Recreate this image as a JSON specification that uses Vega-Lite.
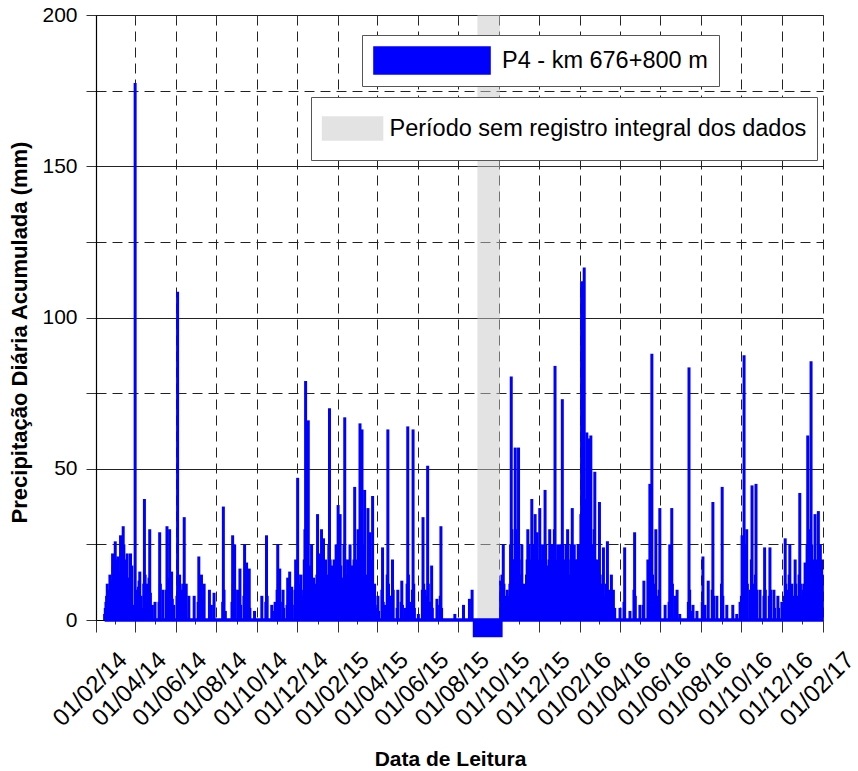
{
"$schema": "https://vega.github.io/schema/vega-lite/v6.json",
"width": 727, "height": 605,
"autosize": "none",
"padding": {"left": 96, "top": 15, "right": 35, "bottom": 151},
"background": "white",
"config": {"view": {"stroke": null}, "font": "Liberation Sans"},
"title": {"text": "Precipitação pluviométrica diária registrada no pluviômetro P4", "fontSize": 22, "fontWeight": "normal", "color": "black", "anchor": "start", "dx": -12, "offset": 3, "baseline": "alphabetic"},
"datasets": {
"faixa": [{"ini": "2015-08-30", "fim": "2015-10-03", "y0": 0, "y1": 200}],
"negativo": [{"ini": "2015-08-23", "fim": "2015-10-07", "y0": 0, "y1": -5.7}],
"base": [{"ini": "2014-02-14", "fim": "2017-02-01", "v": 0}],
"chuva": [
{"d":"2014-02-14","v":2},{"d":"2014-02-16","v":6},{"d":"2014-02-18","v":12},{"d":"2014-02-20","v":4},{"d":"2014-02-22","v":15},{"d":"2014-02-24","v":9},{"d":"2014-02-26","v":22},{"d":"2014-02-28","v":12},
{"d":"2014-02-15","v":4},{"d":"2014-02-17","v":8},{"d":"2014-02-19","v":10},{"d":"2014-02-21","v":7},{"d":"2014-02-23","v":11},{"d":"2014-02-25","v":13},{"d":"2014-02-27","v":18},
{"d":"2014-03-02","v":26},{"d":"2014-03-04","v":18},{"d":"2014-03-06","v":21},{"d":"2014-03-08","v":10},{"d":"2014-03-10","v":28},{"d":"2014-03-12","v":15},{"d":"2014-03-14","v":31},{"d":"2014-03-16","v":20},{"d":"2014-03-18","v":12},{"d":"2014-03-20","v":22},{"d":"2014-03-22","v":8},{"d":"2014-03-25","v":22},{"d":"2014-03-28","v":5},
{"d":"2014-03-01","v":15},{"d":"2014-03-03","v":20},{"d":"2014-03-05","v":12},{"d":"2014-03-07","v":16},{"d":"2014-03-09","v":14},{"d":"2014-03-11","v":20},{"d":"2014-03-13","v":22},{"d":"2014-03-15","v":25},{"d":"2014-03-17","v":9},{"d":"2014-03-19","v":16},{"d":"2014-03-21","v":12},{"d":"2014-03-23","v":14},{"d":"2014-03-24","v":6},{"d":"2014-03-26","v":10},{"d":"2014-03-27","v":18},
{"d":"2014-04-01","v":177.5},{"d":"2014-04-03","v":5},{"d":"2014-04-06","v":11},{"d":"2014-04-08","v":16},{"d":"2014-04-10","v":8},{"d":"2014-04-15","v":40},{"d":"2014-04-19","v":12},{"d":"2014-04-23","v":30},{"d":"2014-04-27","v":5},
{"d":"2014-04-02","v":10},{"d":"2014-04-04","v":3},{"d":"2014-04-05","v":7},{"d":"2014-04-07","v":13},{"d":"2014-04-09","v":6},{"d":"2014-04-12","v":4},{"d":"2014-04-14","v":12},{"d":"2014-04-16","v":15},{"d":"2014-04-17","v":8},{"d":"2014-04-20","v":6},{"d":"2014-04-22","v":14},{"d":"2014-04-24","v":9},
{"d":"2014-05-01","v":6},{"d":"2014-05-08","v":29},{"d":"2014-05-13","v":10},{"d":"2014-05-19","v":31},{"d":"2014-05-23","v":30},{"d":"2014-05-26","v":16},{"d":"2014-05-29","v":5},
{"d":"2014-05-07","v":6},{"d":"2014-05-09","v":12},{"d":"2014-05-18","v":10},{"d":"2014-05-20","v":14},{"d":"2014-05-21","v":8},{"d":"2014-05-22","v":12},{"d":"2014-05-24","v":9},{"d":"2014-05-27","v":7},
{"d":"2014-06-04","v":108.5},{"d":"2014-06-07","v":15},{"d":"2014-06-10","v":10},{"d":"2014-06-14","v":34},{"d":"2014-06-17","v":12},{"d":"2014-06-21","v":8},{"d":"2014-06-29","v":8},
{"d":"2014-06-03","v":8},{"d":"2014-06-05","v":10},{"d":"2014-06-06","v":6},{"d":"2014-06-08","v":12},{"d":"2014-06-11","v":6},{"d":"2014-06-13","v":12},{"d":"2014-06-15","v":9},{"d":"2014-06-16","v":5},
{"d":"2014-07-06","v":21},{"d":"2014-07-10","v":15},{"d":"2014-07-14","v":12},{"d":"2014-07-22","v":10},{"d":"2014-07-25","v":5},{"d":"2014-07-29","v":9},
{"d":"2014-07-05","v":6},{"d":"2014-07-07","v":10},{"d":"2014-07-11","v":8},{"d":"2014-07-13","v":5},{"d":"2014-07-23","v":4},
{"d":"2014-08-12","v":37.5},{"d":"2014-08-15","v":3},{"d":"2014-08-26","v":28},{"d":"2014-08-29","v":25},
{"d":"2014-08-11","v":6},{"d":"2014-08-13","v":10},{"d":"2014-08-25","v":6},{"d":"2014-08-27","v":12},{"d":"2014-08-28","v":8},{"d":"2014-08-30","v":10},
{"d":"2014-09-03","v":10},{"d":"2014-09-06","v":17},{"d":"2014-09-13","v":25},{"d":"2014-09-16","v":19},{"d":"2014-09-20","v":17},{"d":"2014-09-28","v":3},
{"d":"2014-09-05","v":8},{"d":"2014-09-07","v":5},{"d":"2014-09-12","v":8},{"d":"2014-09-14","v":12},{"d":"2014-09-15","v":6},{"d":"2014-09-17","v":10},{"d":"2014-09-19","v":6},{"d":"2014-09-21","v":4},
{"d":"2014-10-09","v":8},{"d":"2014-10-16","v":28},{"d":"2014-10-24","v":5},{"d":"2014-10-29","v":6},{"d":"2014-10-15","v":6},{"d":"2014-10-17","v":8},{"d":"2014-10-25","v":3},
{"d":"2014-11-02","v":25},{"d":"2014-11-05","v":17},{"d":"2014-11-10","v":10},{"d":"2014-11-17","v":14},{"d":"2014-11-20","v":16},{"d":"2014-11-23","v":11},{"d":"2014-11-29","v":20},
{"d":"2014-11-01","v":10},{"d":"2014-11-03","v":12},{"d":"2014-11-04","v":8},{"d":"2014-11-06","v":6},{"d":"2014-11-11","v":4},{"d":"2014-11-16","v":5},{"d":"2014-11-18","v":8},{"d":"2014-11-19","v":6},{"d":"2014-11-21","v":9},{"d":"2014-11-22","v":6},{"d":"2014-11-24","v":5},{"d":"2014-11-28","v":10},{"d":"2014-11-30","v":12},
{"d":"2014-12-02","v":47},{"d":"2014-12-07","v":15},{"d":"2014-12-14","v":79},{"d":"2014-12-18","v":66},{"d":"2014-12-23","v":25},{"d":"2014-12-27","v":10},
{"d":"2014-12-01","v":8},{"d":"2014-12-03","v":15},{"d":"2014-12-04","v":10},{"d":"2014-12-05","v":6},{"d":"2014-12-06","v":12},{"d":"2014-12-08","v":8},{"d":"2014-12-09","v":5},{"d":"2014-12-11","v":10},{"d":"2014-12-12","v":20},{"d":"2014-12-13","v":30},{"d":"2014-12-15","v":25},{"d":"2014-12-16","v":12},{"d":"2014-12-17","v":20},{"d":"2014-12-19","v":15},{"d":"2014-12-20","v":10},{"d":"2014-12-21","v":18},{"d":"2014-12-22","v":12},{"d":"2014-12-24","v":8},{"d":"2014-12-26","v":14},{"d":"2014-12-28","v":6},{"d":"2014-12-29","v":12},{"d":"2014-12-30","v":8},{"d":"2014-12-31","v":15},
{"d":"2015-01-01","v":35},{"d":"2015-01-04","v":22},{"d":"2015-01-07","v":30},{"d":"2015-01-10","v":27},{"d":"2015-01-13","v":20},{"d":"2015-01-19","v":70},{"d":"2015-01-23","v":18},{"d":"2015-01-26","v":20},
{"d":"2015-01-02","v":15},{"d":"2015-01-03","v":10},{"d":"2015-01-05","v":12},{"d":"2015-01-06","v":18},{"d":"2015-01-08","v":14},{"d":"2015-01-09","v":20},{"d":"2015-01-11","v":16},{"d":"2015-01-12","v":10},{"d":"2015-01-14","v":8},{"d":"2015-01-15","v":12},{"d":"2015-01-16","v":6},{"d":"2015-01-17","v":15},{"d":"2015-01-18","v":25},{"d":"2015-01-20","v":20},{"d":"2015-01-21","v":12},{"d":"2015-01-22","v":8},{"d":"2015-01-24","v":10},{"d":"2015-01-25","v":14},{"d":"2015-01-27","v":8},{"d":"2015-01-28","v":12},{"d":"2015-01-29","v":25},{"d":"2015-01-30","v":15},{"d":"2015-01-31","v":10},
{"d":"2015-02-01","v":38},{"d":"2015-02-04","v":35},{"d":"2015-02-07","v":12},{"d":"2015-02-11","v":67},{"d":"2015-02-16","v":20},{"d":"2015-02-19","v":25},{"d":"2015-02-23","v":10},{"d":"2015-02-26","v":44},
{"d":"2015-02-02","v":20},{"d":"2015-02-03","v":15},{"d":"2015-02-05","v":18},{"d":"2015-02-06","v":10},{"d":"2015-02-08","v":8},{"d":"2015-02-09","v":14},{"d":"2015-02-10","v":25},{"d":"2015-02-12","v":20},{"d":"2015-02-13","v":15},{"d":"2015-02-14","v":8},{"d":"2015-02-15","v":12},{"d":"2015-02-17","v":10},{"d":"2015-02-18","v":15},{"d":"2015-02-20","v":12},{"d":"2015-02-21","v":8},{"d":"2015-02-22","v":18},{"d":"2015-02-24","v":6},{"d":"2015-02-25","v":20},{"d":"2015-02-27","v":15},{"d":"2015-02-28","v":10},
{"d":"2015-03-03","v":30},{"d":"2015-03-06","v":65},{"d":"2015-03-09","v":63},{"d":"2015-03-13","v":43},{"d":"2015-03-18","v":37},{"d":"2015-03-21","v":29},{"d":"2015-03-25","v":41},{"d":"2015-03-28","v":12},
{"d":"2015-03-01","v":12},{"d":"2015-03-02","v":20},{"d":"2015-03-04","v":15},{"d":"2015-03-05","v":25},{"d":"2015-03-07","v":30},{"d":"2015-03-08","v":20},{"d":"2015-03-10","v":25},{"d":"2015-03-11","v":15},{"d":"2015-03-12","v":20},{"d":"2015-03-14","v":12},{"d":"2015-03-15","v":8},{"d":"2015-03-16","v":15},{"d":"2015-03-17","v":10},{"d":"2015-03-19","v":20},{"d":"2015-03-20","v":12},{"d":"2015-03-22","v":15},{"d":"2015-03-23","v":10},{"d":"2015-03-24","v":20},{"d":"2015-03-26","v":8},{"d":"2015-03-27","v":6},{"d":"2015-03-29","v":5},
{"d":"2015-04-02","v":8},{"d":"2015-04-09","v":24},{"d":"2015-04-12","v":5},{"d":"2015-04-17","v":63},{"d":"2015-04-20","v":8},{"d":"2015-04-24","v":20},
{"d":"2015-04-01","v":4},{"d":"2015-04-03","v":3},{"d":"2015-04-08","v":10},{"d":"2015-04-10","v":6},{"d":"2015-04-16","v":15},{"d":"2015-04-18","v":12},{"d":"2015-04-19","v":6},{"d":"2015-04-23","v":8},{"d":"2015-04-25","v":10},
{"d":"2015-05-02","v":10},{"d":"2015-05-08","v":13},{"d":"2015-05-13","v":4},{"d":"2015-05-17","v":64},{"d":"2015-05-20","v":6},{"d":"2015-05-25","v":63},
{"d":"2015-05-01","v":4},{"d":"2015-05-07","v":6},{"d":"2015-05-09","v":5},{"d":"2015-05-16","v":12},{"d":"2015-05-18","v":15},{"d":"2015-05-24","v":10},{"d":"2015-05-26","v":12},{"d":"2015-05-27","v":4},
{"d":"2015-06-02","v":2},{"d":"2015-06-09","v":34},{"d":"2015-06-12","v":10},{"d":"2015-06-16","v":51},{"d":"2015-06-19","v":5},{"d":"2015-06-22","v":18},{"d":"2015-06-30","v":7},
{"d":"2015-06-08","v":10},{"d":"2015-06-10","v":12},{"d":"2015-06-15","v":8},{"d":"2015-06-17","v":12},{"d":"2015-06-18","v":6},{"d":"2015-06-21","v":6},{"d":"2015-06-23","v":4},
{"d":"2015-07-04","v":5},{"d":"2015-07-06","v":31},{"d":"2015-07-05","v":8},{"d":"2015-07-07","v":4},{"d":"2015-07-27","v":2},{"d":"2015-08-09","v":5},{"d":"2015-08-18","v":7},{"d":"2015-08-22","v":10},
{"d":"2015-10-04","v":13},{"d":"2015-10-08","v":25},{"d":"2015-10-14","v":10},{"d":"2015-10-20","v":80.5},{"d":"2015-10-23","v":20},{"d":"2015-10-26","v":57},{"d":"2015-10-31","v":57},
{"d":"2015-10-05","v":8},{"d":"2015-10-06","v":15},{"d":"2015-10-07","v":10},{"d":"2015-10-09","v":12},{"d":"2015-10-10","v":6},{"d":"2015-10-11","v":8},{"d":"2015-10-13","v":6},{"d":"2015-10-15","v":5},{"d":"2015-10-17","v":8},{"d":"2015-10-18","v":12},{"d":"2015-10-19","v":25},{"d":"2015-10-21","v":30},{"d":"2015-10-22","v":15},{"d":"2015-10-24","v":10},{"d":"2015-10-25","v":20},{"d":"2015-10-27","v":30},{"d":"2015-10-28","v":15},{"d":"2015-10-29","v":10},{"d":"2015-10-30","v":25},
{"d":"2015-11-05","v":25},{"d":"2015-11-10","v":8},{"d":"2015-11-14","v":30},{"d":"2015-11-17","v":15},{"d":"2015-11-20","v":40},{"d":"2015-11-25","v":35},{"d":"2015-11-28","v":29},
{"d":"2015-11-01","v":20},{"d":"2015-11-02","v":12},{"d":"2015-11-03","v":8},{"d":"2015-11-04","v":15},{"d":"2015-11-06","v":10},{"d":"2015-11-07","v":6},{"d":"2015-11-08","v":12},{"d":"2015-11-09","v":5},{"d":"2015-11-11","v":10},{"d":"2015-11-12","v":15},{"d":"2015-11-13","v":20},{"d":"2015-11-15","v":12},{"d":"2015-11-16","v":25},{"d":"2015-11-18","v":10},{"d":"2015-11-19","v":20},{"d":"2015-11-21","v":15},{"d":"2015-11-22","v":25},{"d":"2015-11-23","v":12},{"d":"2015-11-24","v":20},{"d":"2015-11-26","v":15},{"d":"2015-11-27","v":20},{"d":"2015-11-29","v":12},{"d":"2015-11-30","v":20},
{"d":"2015-12-02","v":37},{"d":"2015-12-05","v":20},{"d":"2015-12-10","v":43},{"d":"2015-12-13","v":18},{"d":"2015-12-17","v":30},{"d":"2015-12-22","v":12},{"d":"2015-12-25","v":84},{"d":"2015-12-29","v":25},
{"d":"2015-12-01","v":15},{"d":"2015-12-03","v":25},{"d":"2015-12-04","v":12},{"d":"2015-12-06","v":15},{"d":"2015-12-07","v":25},{"d":"2015-12-08","v":10},{"d":"2015-12-09","v":20},{"d":"2015-12-11","v":25},{"d":"2015-12-12","v":12},{"d":"2015-12-14","v":8},{"d":"2015-12-15","v":15},{"d":"2015-12-16","v":20},{"d":"2015-12-18","v":12},{"d":"2015-12-19","v":20},{"d":"2015-12-20","v":10},{"d":"2015-12-21","v":25},{"d":"2015-12-23","v":15},{"d":"2015-12-24","v":30},{"d":"2015-12-26","v":20},{"d":"2015-12-27","v":12},{"d":"2015-12-28","v":10},{"d":"2015-12-30","v":15},{"d":"2015-12-31","v":8},
{"d":"2016-01-01","v":10},{"d":"2016-01-05","v":73},{"d":"2016-01-10","v":15},{"d":"2016-01-13","v":30},{"d":"2016-01-16","v":12},{"d":"2016-01-20","v":37},{"d":"2016-01-23","v":25},{"d":"2016-01-26","v":10},{"d":"2016-01-29","v":25},
{"d":"2016-01-02","v":25},{"d":"2016-01-03","v":15},{"d":"2016-01-04","v":20},{"d":"2016-01-06","v":25},{"d":"2016-01-07","v":12},{"d":"2016-01-08","v":20},{"d":"2016-01-09","v":10},{"d":"2016-01-11","v":25},{"d":"2016-01-12","v":18},{"d":"2016-01-14","v":20},{"d":"2016-01-15","v":8},{"d":"2016-01-17","v":15},{"d":"2016-01-18","v":25},{"d":"2016-01-19","v":20},{"d":"2016-01-21","v":15},{"d":"2016-01-22","v":20},{"d":"2016-01-24","v":12},{"d":"2016-01-25","v":20},{"d":"2016-01-27","v":15},{"d":"2016-01-28","v":20},{"d":"2016-01-30","v":15},{"d":"2016-01-31","v":20},
{"d":"2016-02-03","v":112},{"d":"2016-02-04","v":30},{"d":"2016-02-07","v":116.5},{"d":"2016-02-09","v":40},{"d":"2016-02-11","v":62},{"d":"2016-02-14","v":60},{"d":"2016-02-17","v":61},{"d":"2016-02-20","v":25},{"d":"2016-02-23","v":49},{"d":"2016-02-26","v":15},
{"d":"2016-02-01","v":25},{"d":"2016-02-02","v":35},{"d":"2016-02-05","v":25},{"d":"2016-02-06","v":35},{"d":"2016-02-08","v":30},{"d":"2016-02-10","v":25},{"d":"2016-02-12","v":30},{"d":"2016-02-13","v":25},{"d":"2016-02-15","v":35},{"d":"2016-02-16","v":20},{"d":"2016-02-18","v":25},{"d":"2016-02-19","v":20},{"d":"2016-02-21","v":15},{"d":"2016-02-22","v":30},{"d":"2016-02-24","v":20},{"d":"2016-02-25","v":12},{"d":"2016-02-27","v":10},{"d":"2016-02-28","v":20},{"d":"2016-02-29","v":12},
{"d":"2016-03-01","v":39},{"d":"2016-03-04","v":10},{"d":"2016-03-07","v":24},{"d":"2016-03-10","v":8},{"d":"2016-03-13","v":26},{"d":"2016-03-16","v":10},{"d":"2016-03-19","v":15},{"d":"2016-03-22","v":10},
{"d":"2016-03-02","v":15},{"d":"2016-03-03","v":8},{"d":"2016-03-05","v":12},{"d":"2016-03-06","v":5},{"d":"2016-03-08","v":6},{"d":"2016-03-11","v":12},{"d":"2016-03-12","v":5},{"d":"2016-03-14","v":8},{"d":"2016-03-15","v":4},{"d":"2016-03-17","v":6},{"d":"2016-03-18","v":3},{"d":"2016-03-20","v":6},{"d":"2016-03-24","v":4},
{"d":"2016-04-01","v":4},{"d":"2016-04-08","v":24},{"d":"2016-04-16","v":3},{"d":"2016-04-23","v":29},{"d":"2016-04-07","v":6},{"d":"2016-04-22","v":10},{"d":"2016-04-24","v":8},
{"d":"2016-05-01","v":5},{"d":"2016-05-07","v":13},{"d":"2016-05-13","v":20},{"d":"2016-05-16","v":45},{"d":"2016-05-19","v":88},{"d":"2016-05-22","v":10},{"d":"2016-05-25","v":30},{"d":"2016-05-31","v":37},
{"d":"2016-05-06","v":5},{"d":"2016-05-14","v":8},{"d":"2016-05-15","v":12},{"d":"2016-05-17","v":20},{"d":"2016-05-18","v":30},{"d":"2016-05-20","v":15},{"d":"2016-05-21","v":8},{"d":"2016-05-24","v":12},{"d":"2016-05-26","v":8},{"d":"2016-05-30","v":10},
{"d":"2016-06-08","v":5},{"d":"2016-06-15","v":25},{"d":"2016-06-18","v":37},{"d":"2016-06-23","v":8},{"d":"2016-06-26","v":10},{"d":"2016-06-30","v":2},
{"d":"2016-06-14","v":6},{"d":"2016-06-16","v":10},{"d":"2016-06-17","v":15},{"d":"2016-06-19","v":12},{"d":"2016-06-25","v":4},
{"d":"2016-07-14","v":83.5},{"d":"2016-07-17","v":3},{"d":"2016-07-20","v":5},{"d":"2016-07-26","v":3},{"d":"2016-07-13","v":6},{"d":"2016-07-15","v":10},
{"d":"2016-08-04","v":21},{"d":"2016-08-07","v":5},{"d":"2016-08-12","v":13},{"d":"2016-08-19","v":39},{"d":"2016-08-25","v":8},{"d":"2016-08-03","v":6},{"d":"2016-08-18","v":10},{"d":"2016-08-20","v":8},
{"d":"2016-09-02","v":44},{"d":"2016-09-09","v":5},{"d":"2016-09-18","v":5},{"d":"2016-09-24","v":2},{"d":"2016-09-29","v":6},{"d":"2016-09-01","v":12},{"d":"2016-09-03","v":8},
{"d":"2016-10-02","v":28},{"d":"2016-10-05","v":87.5},{"d":"2016-10-09","v":30},{"d":"2016-10-14","v":10},{"d":"2016-10-17","v":44.5},{"d":"2016-10-23","v":45},{"d":"2016-10-29","v":10},
{"d":"2016-10-01","v":8},{"d":"2016-10-03","v":12},{"d":"2016-10-04","v":20},{"d":"2016-10-06","v":25},{"d":"2016-10-07","v":15},{"d":"2016-10-08","v":10},{"d":"2016-10-10","v":12},{"d":"2016-10-16","v":20},{"d":"2016-10-18","v":12},{"d":"2016-10-22","v":15},{"d":"2016-10-24","v":10},
{"d":"2016-11-05","v":24},{"d":"2016-11-13","v":24},{"d":"2016-11-19","v":10},{"d":"2016-11-25","v":8},{"d":"2016-11-04","v":8},{"d":"2016-11-06","v":10},{"d":"2016-11-12","v":8},{"d":"2016-11-14","v":10},{"d":"2016-11-20","v":4},{"d":"2016-11-26","v":4},
{"d":"2016-12-01","v":6},{"d":"2016-12-06","v":27},{"d":"2016-12-10","v":10},{"d":"2016-12-13","v":25},{"d":"2016-12-16","v":12},{"d":"2016-12-21","v":20},{"d":"2016-12-25","v":8},{"d":"2016-12-28","v":42},
{"d":"2016-12-05","v":8},{"d":"2016-12-07","v":12},{"d":"2016-12-08","v":6},{"d":"2016-12-11","v":5},{"d":"2016-12-12","v":15},{"d":"2016-12-14","v":10},{"d":"2016-12-15","v":5},{"d":"2016-12-17","v":6},{"d":"2016-12-20","v":8},{"d":"2016-12-22","v":12},{"d":"2016-12-23","v":6},{"d":"2016-12-26","v":5},{"d":"2016-12-27","v":15},{"d":"2016-12-29","v":12},{"d":"2016-12-30","v":8},{"d":"2016-12-31","v":5},
{"d":"2017-01-02","v":10},{"d":"2017-01-05","v":19},{"d":"2017-01-09","v":61},{"d":"2017-01-14","v":85.5},{"d":"2017-01-17","v":20},{"d":"2017-01-20","v":35},{"d":"2017-01-25","v":36},{"d":"2017-01-28","v":25},{"d":"2017-01-31","v":15},
{"d":"2017-01-01","v":6},{"d":"2017-01-03","v":12},{"d":"2017-01-04","v":8},{"d":"2017-01-06","v":10},{"d":"2017-01-07","v":15},{"d":"2017-01-08","v":25},{"d":"2017-01-10","v":20},{"d":"2017-01-11","v":15},{"d":"2017-01-12","v":10},{"d":"2017-01-13","v":30},{"d":"2017-01-15","v":25},{"d":"2017-01-16","v":12},{"d":"2017-01-18","v":15},{"d":"2017-01-19","v":10},{"d":"2017-01-21","v":20},{"d":"2017-01-22","v":12},{"d":"2017-01-23","v":8},{"d":"2017-01-24","v":15},{"d":"2017-01-26","v":20},{"d":"2017-01-27","v":12},{"d":"2017-01-29","v":10},{"d":"2017-01-30","v":20}
]
},
"layer": [
{
"data": {"name": "faixa"},
"mark": {"type": "rect", "opacity": 0.5},
"encoding": {
"x": {"field": "ini", "type": "temporal",
"scale": {"type": "utc", "padding": 0, "domain": [{"year": 2014, "month": 2, "date": 1, "utc": true}, {"year": 2017, "month": 2, "date": 1, "utc": true}]},
"axis": {"orient": "top", "title": null, "labels": false, "grid": false, "domain": false, "tickSize": -5, "tickColor": "#333", "minExtent": 0, "maxExtent": 0,
"values": [{"year":2014,"month":2,"date":1,"utc":true},{"year":2014,"month":4,"date":1,"utc":true},{"year":2014,"month":6,"date":1,"utc":true},{"year":2014,"month":8,"date":1,"utc":true},{"year":2014,"month":10,"date":1,"utc":true},{"year":2014,"month":12,"date":1,"utc":true},{"year":2015,"month":2,"date":1,"utc":true},{"year":2015,"month":4,"date":1,"utc":true},{"year":2015,"month":6,"date":1,"utc":true},{"year":2015,"month":8,"date":1,"utc":true},{"year":2015,"month":10,"date":1,"utc":true},{"year":2015,"month":12,"date":1,"utc":true},{"year":2016,"month":2,"date":1,"utc":true},{"year":2016,"month":4,"date":1,"utc":true},{"year":2016,"month":6,"date":1,"utc":true},{"year":2016,"month":8,"date":1,"utc":true},{"year":2016,"month":10,"date":1,"utc":true},{"year":2016,"month":12,"date":1,"utc":true},{"year":2017,"month":2,"date":1,"utc":true}]}},
"x2": {"field": "fim"},
"y": {"field": "y1", "type": "quantitative", "scale": {"domain": [0, 200], "nice": false, "zero": false},
"axis": {"values": [0,25,50,75,100,125,150,175,200],
"labelExpr": "datum.value % 50 == 0 ? datum.label : ''",
"labelFontSize": 21, "labelColor": "black", "labelPadding": 9, "tickSize": 10, "tickColor": "#333",
"domainColor": "black", "domainWidth": 1.2,
"gridColor": "#222", "gridWidth": 1,
"gridDash": {"condition": {"test": "datum.value % 50 == 0", "value": []}, "value": [10, 6]},
"title": "Precipitação Diária Acumulada (mm)", "titleFontSize": 22, "titleFontWeight": "bold", "titleColor": "black",
"titleX": -65, "titleY": 317, "titleBaseline": "bottom", "titleAngle": -90}},
"y2": {"field": "y0"},
"fill": {"datum": "Período sem registro integral dos dados", "type": "nominal",
"scale": {"range": ["#c7c7c7"]},
"legend": {"title": null, "orient": "none", "legendX": 215, "legendY": 82,
"symbolType": "M-1,-0.4H1V0.4H-1Z", "symbolSize": 3800, "symbolOpacity": 0.5, "symbolStrokeWidth": 0,
"labelFontSize": 23.5, "labelColor": "black", "labelOffset": 6, "labelLimit": 700,
"padding": 10.5, "strokeColor": "#555", "fillColor": "white", "clipHeight": 42}}
}
},
{
"data": {"name": "negativo"},
"mark": {"type": "rect", "color": "#0000ff"},
"encoding": {
"x": {"field": "ini", "type": "temporal", "axis": null},
"x2": {"field": "fim"},
"y": {"field": "y1", "type": "quantitative", "axis": null},
"y2": {"field": "y0"}
}
},
{
"data": {"name": "base"},
"mark": {"type": "rule", "color": "#0000ff", "strokeWidth": 3.5},
"encoding": {
"x": {"field": "ini", "type": "temporal", "axis": null},
"x2": {"field": "fim"},
"y": {"field": "v", "type": "quantitative", "axis": null}
}
},
{
"data": {"name": "chuva"},
"mark": {"type": "bar", "width": 3},
"encoding": {
"x": {"field": "d", "type": "temporal",
"axis": {"orient": "bottom",
"values": [{"year":2014,"month":2,"date":1,"utc":true},{"year":2014,"month":3,"date":1,"utc":true},{"year":2014,"month":4,"date":1,"utc":true},{"year":2014,"month":5,"date":1,"utc":true},{"year":2014,"month":6,"date":1,"utc":true},{"year":2014,"month":7,"date":1,"utc":true},{"year":2014,"month":8,"date":1,"utc":true},{"year":2014,"month":9,"date":1,"utc":true},{"year":2014,"month":10,"date":1,"utc":true},{"year":2014,"month":11,"date":1,"utc":true},{"year":2014,"month":12,"date":1,"utc":true},{"year":2015,"month":1,"date":1,"utc":true},{"year":2015,"month":2,"date":1,"utc":true},{"year":2015,"month":3,"date":1,"utc":true},{"year":2015,"month":4,"date":1,"utc":true},{"year":2015,"month":5,"date":1,"utc":true},{"year":2015,"month":6,"date":1,"utc":true},{"year":2015,"month":7,"date":1,"utc":true},{"year":2015,"month":8,"date":1,"utc":true},{"year":2015,"month":9,"date":1,"utc":true},{"year":2015,"month":10,"date":1,"utc":true},{"year":2015,"month":11,"date":1,"utc":true},{"year":2015,"month":12,"date":1,"utc":true},{"year":2016,"month":1,"date":1,"utc":true},{"year":2016,"month":2,"date":1,"utc":true},{"year":2016,"month":3,"date":1,"utc":true},{"year":2016,"month":4,"date":1,"utc":true},{"year":2016,"month":5,"date":1,"utc":true},{"year":2016,"month":6,"date":1,"utc":true},{"year":2016,"month":7,"date":1,"utc":true},{"year":2016,"month":8,"date":1,"utc":true},{"year":2016,"month":9,"date":1,"utc":true},{"year":2016,"month":10,"date":1,"utc":true},{"year":2016,"month":11,"date":1,"utc":true},{"year":2016,"month":12,"date":1,"utc":true},{"year":2017,"month":1,"date":1,"utc":true},{"year":2017,"month":2,"date":1,"utc":true}],
"labelExpr": "utcmonth(datum.value) % 2 == 1 ? utcFormat(datum.value, '%d/%m/%y') : ''",
"labelAngle": -45, "labelAlign": "right", "labelBaseline": "middle", "labelOffset": 27, "labelPadding": 24,
"labelFontSize": 24, "labelColor": "black", "labelOverlap": false, "labelFlush": false, "labelBound": false,
"tickSize": {"condition": {"test": "utcmonth(datum.value) % 2 == 1", "value": 12}, "value": 4},
"tickColor": "#333", "domainColor": "black", "domainWidth": 1.2,
"grid": true, "gridColor": "#222", "gridDash": [10, 6],
"gridOpacity": {"condition": {"test": "utcmonth(datum.value) % 2 == 1", "value": 1}, "value": 0},
"title": "Data de Leitura", "titleFontSize": 21, "titleFontWeight": "bold", "titleColor": "black",
"titleX": 354, "titleY": 128, "titleBaseline": "top"}},
"y": {"field": "v", "type": "quantitative", "axis": null},
"y2": {"datum": 0},
"color": {"datum": "P4 - km 676+800 m", "type": "nominal",
"scale": {"range": ["#0000ff"]},
"legend": {"title": null, "orient": "none", "legendX": 266, "legendY": 20,
"symbolType": "M-1,-0.243H1V0.243H-1Z", "symbolSize": 13830, "symbolStrokeWidth": 0,
"labelFontSize": 23.5, "labelColor": "black", "labelOffset": 11, "labelLimit": 700,
"padding": 11, "strokeColor": "#555", "fillColor": "white", "clipHeight": 29}}
}
}
],
"resolve": {"axis": {"x": "independent", "y": "independent"}, "scale": {"color": "independent", "fill": "independent"}}
}
